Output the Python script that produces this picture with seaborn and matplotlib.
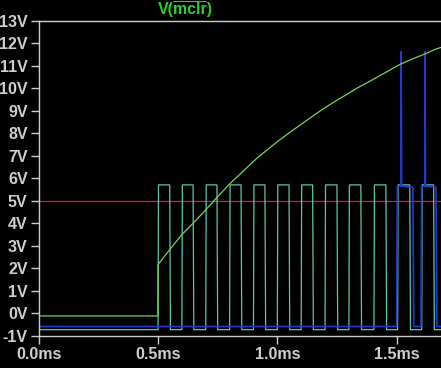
import numpy as np
import pandas as pd
import seaborn as sns
import matplotlib.pyplot as plt
from matplotlib.lines import Line2D

# values (time in ms, volts)
green_t = [0.0, 0.5, 0.5, 0.55, 0.6, 0.66, 0.7, 0.747, 0.8, 0.86, 0.915, 1.0, 1.06, 1.124,
           1.18, 1.236, 1.29, 1.333, 1.42, 1.47, 1.518, 1.57, 1.618, 1.66, 1.69]
green_v = [-0.11, -0.11, 2.17, 2.85, 3.5, 4.15, 4.6, 5.15, 5.75, 6.35, 6.9, 7.63, 8.1, 8.58,
           9.0, 9.38, 9.72, 10.0, 10.5, 10.8, 11.08, 11.32, 11.52, 11.72, 11.83]

# clock square wave edges
cyan_rise = [0.500, 0.600, 0.700, 0.800, 0.900, 1.000, 1.100, 1.200, 1.300, 1.405, 1.504, 1.605]
cyan_fall = [0.549, 0.647, 0.747, 0.848, 0.948, 1.049, 1.148, 1.250, 1.350, 1.455, 1.555, 1.655]
cyan_low = -0.72
cyan_high = 5.71

blue_t = [0.0, 1.500, 1.503, 1.519, 1.519, 1.521, 1.568, 1.572, 1.602, 1.605, 1.619, 1.619, 1.621, 1.665, 1.669, 1.69]
blue_v = [-0.58, -0.58, 5.65, 5.65, 11.63, 5.65, 5.6, -0.58, -0.58, 5.65, 5.65, 11.63, 5.65, 5.6, -0.58, -0.58]

red_level = 5.0

y_ticks = list(range(-1, 14))
x_ticks = [0.0, 0.5, 1.0, 1.5]
x_labels = ["0.0ms", "0.5ms", "1.0ms", "1.5ms"]

# build the square wave from the edge lists
ct, cv = [0.0], [cyan_low]
for r, f in zip(cyan_rise, cyan_fall):
    ct += [r, r + 0.002, f, f + 0.003]
    cv += [cyan_low, cyan_high, cyan_high, cyan_low]
ct.append(1.69)
cv.append(cyan_low)

sns.set_style("dark")
plt.rcParams['font.family'] = ['Liberation Sans', 'DejaVu Sans']

fig = plt.figure(figsize=(4.41, 3.68), dpi=100, facecolor="black")
ax = fig.add_axes([0.0878, 0.087, 0.9122, 0.8567])
ax.set_facecolor("black")

grey = "#cfcfcf"

ax.axhline(red_level, color="#e02020", lw=0.9)
sns.lineplot(x=ct, y=cv, ax=ax, color="#5cc7ae", lw=0.9, sort=False, estimator=None)
sns.lineplot(x=blue_t, y=blue_v, ax=ax, color="#2538d0", lw=1.2, sort=False, estimator=None)
sns.lineplot(x=green_t, y=green_v, ax=ax, color="#74d84e", lw=0.9, sort=False, estimator=None)

ax.set_xlim(0, 1.686)
ax.set_ylim(-1, 13)
ax.set_yticks(y_ticks)
ax.set_yticklabels([f"{v}V" for v in y_ticks])
ax.set_xticks(x_ticks)
ax.set_xticklabels(x_labels)
ax.grid(False)

for s in ["left", "top", "bottom"]:
    ax.spines[s].set_visible(True)
    ax.spines[s].set_color(grey)
    ax.spines[s].set_linewidth(1.0)
ax.spines["right"].set_visible(False)

ax.tick_params(axis="both", direction="out", length=6, width=1, color=grey,
               labelcolor=grey, labelsize=11.5, pad=2, left=True, bottom=True)
for lbl in ax.get_xticklabels() + ax.get_yticklabels():
    lbl.set_fontweight("bold")
ax.set_xlabel("")
ax.set_ylabel("")

# trace name with the inverted-signal bar over "mclr"
fig.text(0.421, 0.975, "V(mclr)", color="#2ecc2e", fontsize=11.5,
         fontweight="bold", ha="center", va="center")
fig.add_artist(Line2D([0.393, 0.468], [0.997, 0.997], transform=fig.transFigure,
                      color="#2ecc2e", lw=0.8))

fig.savefig("out.png", dpi=100, facecolor="black")
